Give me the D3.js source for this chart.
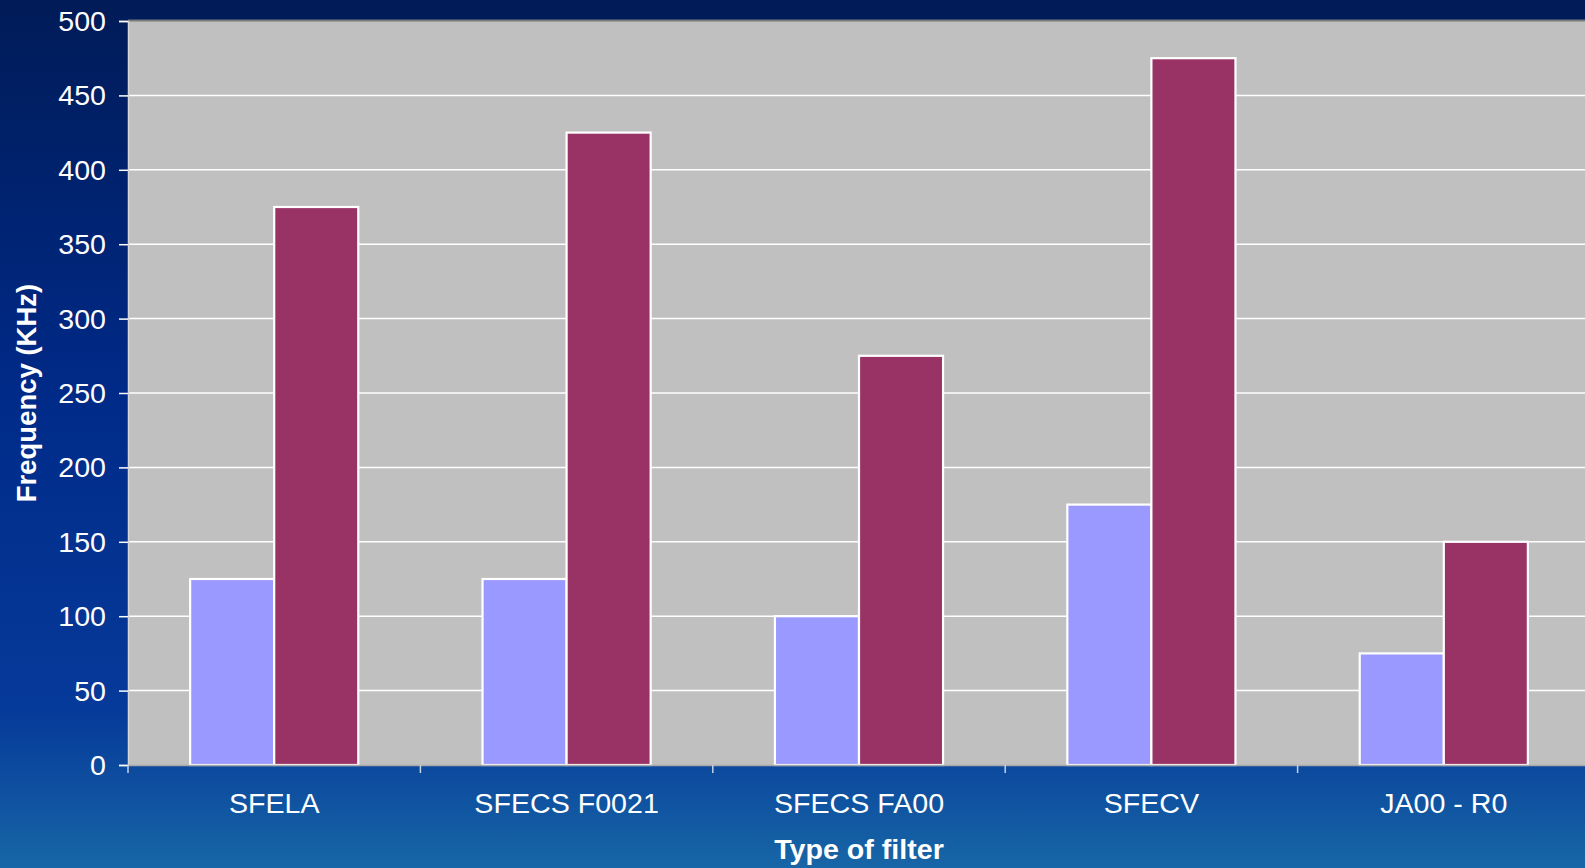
<!DOCTYPE html>
<html>
<head>
<meta charset="utf-8">
<script src="https://cdn.jsdelivr.net/npm/d3@7"></script>
<style>
  html, body { margin: 0; padding: 0; overflow: hidden; background: #002a88; }
  svg { display: block; }
  text { font-family: "Liberation Sans", Arial, sans-serif; fill: #ffffff; }
</style>
</head>
<body>
<svg id="chart" width="1585" height="868"></svg>
<script>
// Filter types along the category axis
const categories = ["SFELA", "SFECS F0021", "SFECS FA00", "SFECV", "JA00 - R0"];
// Two frequency series per filter (KHz)
const seriesNames = ["low", "high"];
const lowValues  = [125, 125, 100, 175, 75];
const highValues = [375, 425, 275, 475, 150];
const yTicks = [0, 50, 100, 150, 200, 250, 300, 350, 400, 450, 500];
const seriesColors = ["#9999ff", "#993366"];

const W = 1585, H = 868;
const plot = { left: 128, top: 21, bottom: 765, band: 292.4 };

const svg = d3.select("#chart");

// Slide background: dark navy at the top into brighter blue at the bottom
const defs = svg.append("defs");
const grad = defs.append("linearGradient")
  .attr("id", "bg").attr("x1", 0).attr("y1", 0).attr("x2", 0).attr("y2", 1);
[["0%", "#001b57"], ["45%", "#002a88"], ["82%", "#063a9a"], ["100%", "#1766a6"]]
  .forEach(([o, c]) => grad.append("stop").attr("offset", o).attr("stop-color", c));
svg.append("rect").attr("width", W).attr("height", H).attr("fill", "url(#bg)");

const x = d3.scaleBand()
  .domain(categories)
  .range([plot.left, plot.left + plot.band * categories.length])
  .paddingInner(0).paddingOuter(0);

const groupFrac = 0.575;
const xs = d3.scaleBand().domain(seriesNames)
  .range([-x.bandwidth() * groupFrac / 2, x.bandwidth() * groupFrac / 2]);

const y = d3.scaleLinear().domain([0, 500]).range([plot.bottom, plot.top]);

const plotRight = x.range()[1];

// Plot area
svg.append("rect")
  .attr("x", plot.left).attr("y", plot.top)
  .attr("width", plotRight - plot.left).attr("height", plot.bottom - plot.top)
  .attr("fill", "#c0c0c0");

// Horizontal gridlines
svg.append("g").selectAll("line")
  .data(yTicks.filter(t => t > 0 && t < 500))
  .join("line")
  .attr("x1", plot.left).attr("x2", plotRight)
  .attr("y1", d => y(d)).attr("y2", d => y(d))
  .attr("stroke", "#ffffff").attr("stroke-width", 1.5);

// Top edge of the plot area
svg.append("line")
  .attr("x1", plot.left).attr("x2", plotRight)
  .attr("y1", y(500) - 0.5).attr("y2", y(500) - 0.5)
  .attr("stroke", "#7a7a7a").attr("stroke-width", 2);

// Bars
const rows = categories.map((c, i) => ({ cat: c, vals: [lowValues[i], highValues[i]] }));
const groups = svg.append("g").selectAll("g")
  .data(rows).join("g")
  .attr("transform", d => `translate(${x(d.cat) + x.bandwidth() / 2},0)`);
groups.selectAll("rect")
  .data(d => d.vals.map((v, j) => ({ key: seriesNames[j], v, j })))
  .join("rect")
  .attr("x", d => xs(d.key))
  .attr("width", xs.bandwidth())
  .attr("y", d => y(d.v))
  .attr("height", d => y(0) - y(d.v))
  .attr("fill", d => seriesColors[d.j])
  .attr("stroke", "#ffffff").attr("stroke-width", 2.2);

// Y axis
const yAxis = d3.axisLeft(y).tickValues(yTicks).tickSize(9).tickPadding(13);
const gy = svg.append("g").attr("transform", `translate(${plot.left},0)`).call(yAxis);
gy.select(".domain").attr("stroke", "#d6d6d6").attr("stroke-width", 1.5);
gy.selectAll(".tick line").attr("stroke", "#ffffff").attr("stroke-width", 1.5);
// Labels are widened slightly; shift back so their right edge stays put
gy.selectAll(".tick text")
  .attr("font-size", 27).attr("fill", "#ffffff")
  .attr("font-family", "'Liberation Sans', Arial, sans-serif")
  .attr("dy", "0.35em")
  .attr("transform", `translate(${(9 + 13) * 0.06},0) scale(1.06,1)`);

// X axis
const xAxis = d3.axisBottom(x).tickSize(0).tickPadding(38);
const gx = svg.append("g").attr("transform", `translate(0,${plot.bottom})`).call(xAxis);
gx.select(".domain").attr("stroke", "#a8a8a8").attr("stroke-width", 1.5);
gx.selectAll(".tick text")
  .attr("font-size", 27).attr("fill", "#ffffff")
  .attr("font-family", "'Liberation Sans', Arial, sans-serif")
  .attr("y", 48).attr("dy", 0)
  .attr("transform", "scale(1.06,1)");
// Category boundary ticks
svg.append("g").selectAll("line")
  .data(d3.range(categories.length + 1))
  .join("line")
  .attr("x1", i => plot.left + i * x.step()).attr("x2", i => plot.left + i * x.step())
  .attr("y1", plot.bottom).attr("y2", plot.bottom + 8)
  .attr("stroke", "#c8d0e8").attr("stroke-width", 1.5);

// Axis titles
svg.append("text")
  .attr("transform", `translate(${(plot.left + plotRight) / 2},859) scale(1.06,1)`)
  .attr("text-anchor", "middle")
  .attr("font-size", 27).attr("font-weight", "bold")
  .text("Type of filter");

svg.append("text")
  .attr("transform", `translate(36,${(plot.top + plot.bottom) / 2}) rotate(-90)`)
  .attr("text-anchor", "middle")
  .attr("font-size", 27.5).attr("font-weight", "bold")
  .text("Frequency (KHz)");
</script>
</body>
</html>
